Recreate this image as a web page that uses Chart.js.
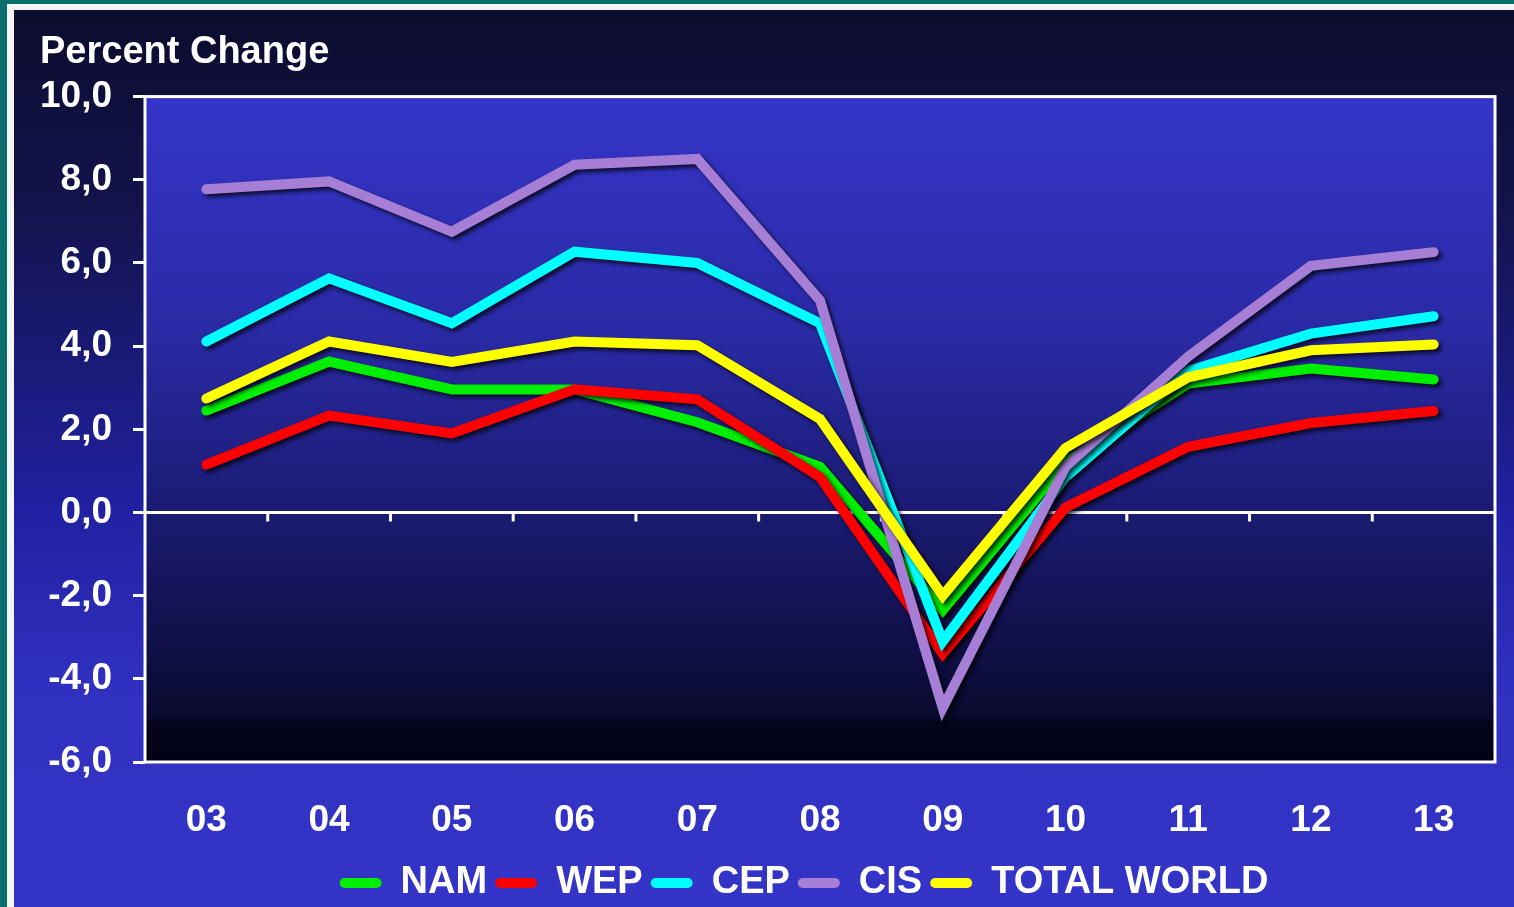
<!DOCTYPE html>
<html>
<head>
<meta charset="utf-8">
<script src="https://cdn.jsdelivr.net/npm/chart.js@4.4.1/dist/chart.umd.min.js"></script>
<style>
  body { margin: 0; width: 1514px; height: 907px; overflow: hidden; background: #0b6e6c; position: relative; }
  #frame { position: absolute; left: 7px; top: 4px; right: 0; bottom: 0; background: #f4f4f4; }
  #panel { position: absolute; left: 14px; top: 10px; right: 0; bottom: 0;
    background: linear-gradient(#0c0c2e 0%, #13134c 22%, #2020a0 55%, #3030c0 75%, #3434c8 100%); }
  #wrap { position: absolute; left: 0; top: 0; width: 1514px; height: 907px; }
</style>
</head>
<body>
<div id="frame"></div>
<div id="panel"></div>
<div id="wrap"><canvas id="chart"></canvas></div>
<script>
// years on the x axis
const years = ['03', '04', '05', '06', '07', '08', '09', '10', '11', '12', '13'];

// percent change per region
const nam   = [2.45, 3.63, 2.96, 2.96, 2.17, 1.10, -2.35, 1.20, 3.10, 3.46, 3.20];
const wep   = [1.15, 2.33, 1.90, 2.96, 2.72, 0.85, -3.40, 0.12, 1.58, 2.15, 2.44];
const cep   = [4.11, 5.63, 4.55, 6.27, 6.00, 4.55, -3.10, 0.85, 3.40, 4.30, 4.72];
const cis   = [7.77, 7.96, 6.75, 8.36, 8.50, 5.10, -4.70, 1.10, 3.75, 5.93, 6.26];
const world = [2.74, 4.11, 3.62, 4.11, 4.02, 2.25, -2.00, 1.55, 3.25, 3.90, 4.04];

const seriesNames = ['NAM', 'WEP', 'CEP', 'CIS', 'TOTAL WORLD'];
const seriesData = [nam, wep, cep, cis, world];
const seriesColors = ['#00ee00', '#ff0000', '#00ffff', '#a77ed6', '#ffff00'];

// y axis range
const yMin = -6;
const yMax = 10;
const yStep = 2;

const FONT = '"Liberation Sans", Arial, Helvetica, sans-serif';

// blue gradient behind the plot, white frame and the little ticks on the zero line
const plotBox = {
  id: 'plotBox',
  afterLayout(chart) {
    // legend sits a bit left of the plot centre in the original
    chart.legend.left -= 16;
    chart.legend.right -= 16;
  },
  beforeDraw(chart) {
    const { ctx, chartArea: a } = chart;
    const g = ctx.createLinearGradient(0, a.top, 0, a.bottom);
    g.addColorStop(0, '#3535c9');
    g.addColorStop(0.35, '#2a2aa6');
    g.addColorStop(0.62, '#1b1b74');
    g.addColorStop(0.93, '#0a0a30');
    g.addColorStop(0.94, '#04041c');
    g.addColorStop(1, '#020214');
    ctx.save();
    ctx.fillStyle = g;
    ctx.fillRect(a.left, a.top, a.right - a.left, a.bottom - a.top);
    ctx.restore();
  },
  beforeDatasetsDraw(chart) {
    const { ctx, chartArea: a, scales } = chart;
    const x = scales.x, y = scales.y;
    const zeroY = y.getPixelForValue(0);
    ctx.save();
    ctx.strokeStyle = '#ffffff';
    ctx.lineWidth = 3;
    ctx.strokeRect(a.left, a.top, a.right - a.left, a.bottom - a.top);
    for (let i = 1; i < years.length; i++) {
      const px = (x.getPixelForValue(i - 1) + x.getPixelForValue(i)) / 2;
      ctx.beginPath();
      ctx.moveTo(px, zeroY);
      ctx.lineTo(px, zeroY + 9);
      ctx.stroke();
    }
    ctx.restore();
  }
};

// drop shadow under each line
const lineShadow = {
  id: 'lineShadow',
  beforeDatasetDraw(chart) {
    const ctx = chart.ctx;
    ctx.save();
    ctx.shadowColor = 'rgba(0,0,0,0.75)';
    ctx.shadowBlur = 4;
    ctx.shadowOffsetX = 3;
    ctx.shadowOffsetY = 3;
  },
  afterDatasetDraw(chart) {
    chart.ctx.restore();
  }
};

new Chart(document.getElementById('chart'), {
  type: 'line',
  data: {
    labels: years,
    datasets: seriesNames.map((name, i) => ({
      label: name,
      data: seriesData[i],
      borderColor: seriesColors[i],
      backgroundColor: seriesColors[i],
      borderWidth: 10,
      borderCapStyle: 'round',
      borderJoinStyle: 'miter',
      pointRadius: 0,
      tension: 0,
      order: seriesNames.length - i
    }))
  },
  options: {
    responsive: true,
    maintainAspectRatio: false,
    animation: false,
    layout: { padding: { left: 40, right: 19, top: 0, bottom: -5 } },
    scales: {
      x: {
        offset: true,
        grid: { display: false, drawTicks: false },
        border: { display: false },
        ticks: {
          color: '#ffffff',
          padding: 37,
          font: { family: FONT, size: 37, weight: 'bold' }
        },
        afterFit(scale) { scale.height = 94; }
      },
      y: {
        min: yMin,
        max: yMax,
        border: { display: false },
        grid: {
          color: ctx => (ctx.tick && ctx.tick.value === 0 ? '#ffffff' : 'rgba(0,0,0,0)'),
          tickColor: '#ffffff',
          lineWidth: 3,
          tickLength: 12
        },
        ticks: {
          stepSize: yStep,
          color: '#ffffff',
          padding: 21,
          font: { family: FONT, size: 37, weight: 'bold' },
          callback: v => v.toFixed(1).replace('.', ',')
        },
        afterFit(scale) { scale.width = 105; }
      }
    },
    plugins: {
      title: {
        display: true,
        text: 'Percent Change',
        align: 'start',
        color: '#ffffff',
        font: { family: FONT, size: 38, weight: 'bold' },
        padding: { top: 30, bottom: 21 }
      },
      legend: {
        position: 'bottom',
        fullSize: false,
        labels: {
          color: '#ffffff',
          font: { family: FONT, size: 38, weight: 'bold' },
          boxWidth: 42,
          boxHeight: 10,
          padding: 8,
          useBorderRadius: true,
          borderRadius: 5,
          sort: (a, b) => a.datasetIndex - b.datasetIndex,
          generateLabels(chart) {
            return Chart.defaults.plugins.legend.labels.generateLabels(chart)
              .map(l => Object.assign(l, { lineWidth: 0, fillStyle: l.strokeStyle }));
          }
        }
      },
      tooltip: { enabled: false }
    }
  },
  plugins: [plotBox, lineShadow]
});
</script>
</body>
</html>
